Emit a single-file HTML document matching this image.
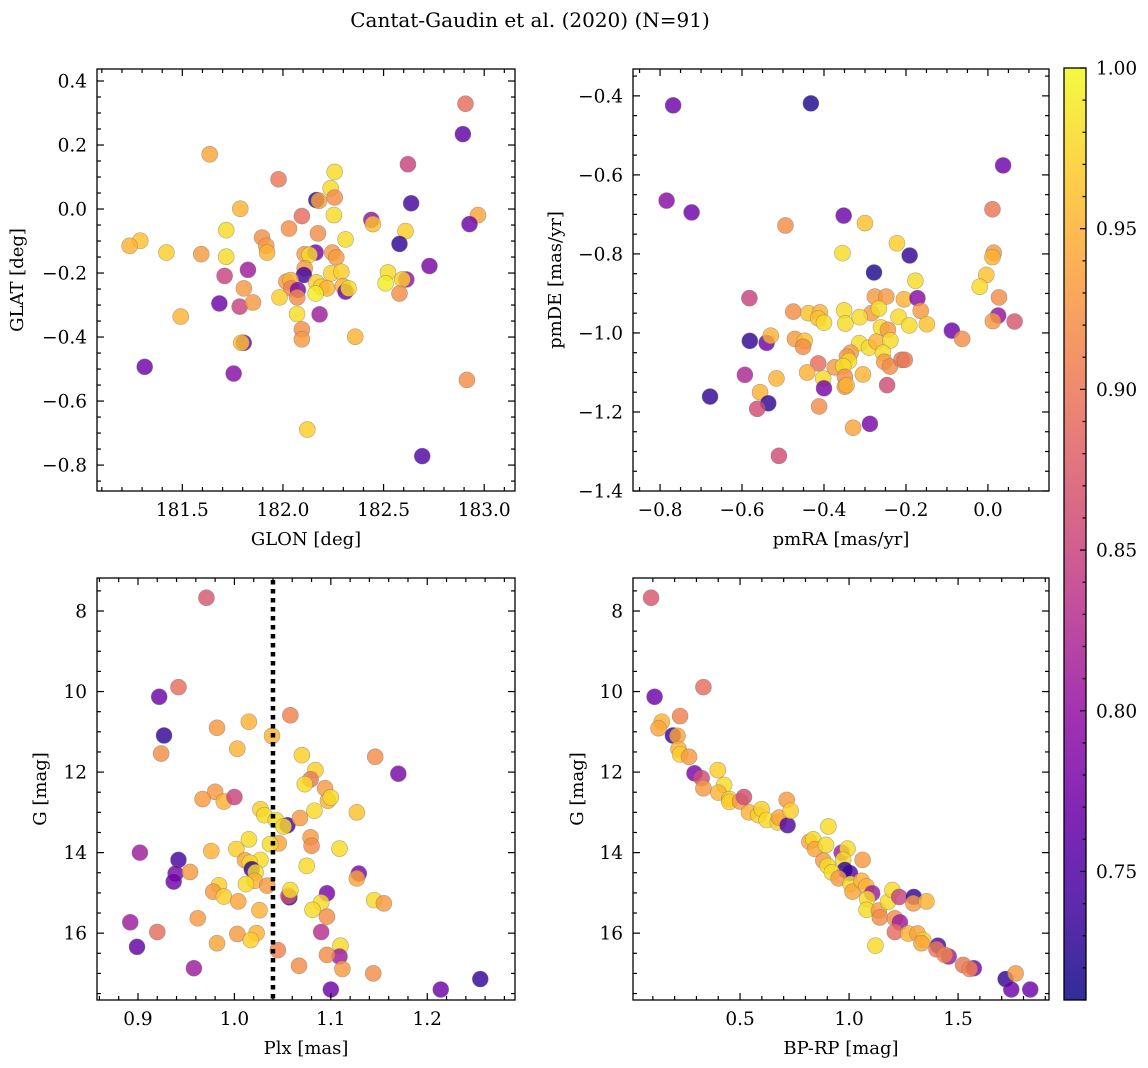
<!DOCTYPE html>
<html><head><meta charset="utf-8">
<style>
html,body{margin:0;padding:0;background:#fff;}
svg{display:block;}
text{font-family:"DejaVu Serif","Liberation Serif",serif;fill:#000;}
</style></head>
<body>
<svg id="fig" width="1148" height="1068" viewBox="0 0 1148 1068" xmlns="http://www.w3.org/2000/svg">
<text x="530" y="27" font-size="20" text-anchor="middle">Cantat-Gaudin et al. (2020) (N=91)</text>
</svg>
<script>
// ---- Panel A: GLON vs GLAT ----
const glonA=[182.907,182.894,181.636,182.621,181.978,182.257,182.237,182.257,182.166,182.179,182.637,181.788,182.969,182.253,182.094,182.439,182.447,182.927,182.030,181.718,182.609,182.174,181.896,182.311,181.291,181.238,182.579,181.917,181.921,181.421,181.594,181.718,182.108,182.162,182.132,182.245,182.265,182.728,181.826,181.710,182.108,182.104,182.240,182.290,182.522,182.613,182.593,182.510,181.806,182.017,182.038,182.041,182.074,182.166,182.190,182.219,182.298,182.311,182.326,182.579,182.071,182.162,181.983,181.684,181.785,181.851,182.070,182.182,181.492,182.094,182.094,182.359,181.805,181.793,181.313,181.755,182.914,182.121,182.692];
const glatA=[0.329,0.234,0.171,0.140,0.093,0.116,0.065,0.036,0.028,0.026,0.018,0.001,-0.019,-0.019,-0.022,-0.034,-0.047,-0.047,-0.061,-0.066,-0.069,-0.076,-0.089,-0.095,-0.099,-0.115,-0.109,-0.115,-0.136,-0.136,-0.141,-0.149,-0.141,-0.136,-0.143,-0.136,-0.151,-0.178,-0.190,-0.209,-0.185,-0.206,-0.201,-0.196,-0.198,-0.220,-0.220,-0.232,-0.248,-0.227,-0.222,-0.248,-0.253,-0.229,-0.243,-0.248,-0.241,-0.258,-0.248,-0.264,-0.276,-0.264,-0.276,-0.295,-0.305,-0.292,-0.328,-0.329,-0.336,-0.376,-0.407,-0.399,-0.418,-0.418,-0.493,-0.514,-0.534,-0.689,-0.772];
const probA=[.89,.76,.94,.85,.90,.98,.98,.92,.72,.94,.74,.95,.94,.98,.89,.80,.96,.77,.92,.98,.97,.92,.92,.98,.96,.95,.73,.93,.95,.97,.93,.98,.93,.78,.98,.93,.93,.78,.81,.85,.93,.74,.97,.97,.98,.80,.97,.99,.93,.93,.95,.91,.78,.97,.97,.95,.95,.77,.98,.92,.92,.99,.97,.77,.85,.93,.98,.81,.95,.92,.93,.95,.77,.96,.77,.79,.92,.97,.75];
// ---- Panel B: pmRA vs pmDE ----
const pmraB=[-0.768,-0.432,0.037,-0.784,-0.723,-0.352,0.011,-0.494,-0.300,-0.222,-0.355,-0.191,0.014,0.011,-0.278,-0.004,-0.177,-0.020,-0.276,-0.248,-0.205,-0.172,0.027,-0.582,-0.475,-0.438,-0.410,-0.351,-0.284,-0.266,-0.164,-0.414,-0.400,-0.348,-0.313,-0.218,-0.192,-0.149,0.025,0.012,0.065,-0.088,-0.063,-0.261,-0.244,-0.581,-0.540,-0.530,-0.471,-0.447,-0.451,-0.314,-0.290,-0.272,-0.238,-0.256,-0.335,-0.344,-0.339,-0.253,-0.239,-0.211,-0.203,-0.414,-0.374,-0.353,-0.441,-0.305,-0.593,-0.516,-0.402,-0.400,-0.349,-0.349,-0.345,-0.246,-0.678,-0.556,-0.536,-0.563,-0.412,-0.329,-0.288,-0.510];
const pmdeB=[-0.424,-0.419,-0.576,-0.665,-0.695,-0.703,-0.687,-0.728,-0.722,-0.773,-0.798,-0.804,-0.797,-0.808,-0.847,-0.853,-0.868,-0.883,-0.908,-0.908,-0.915,-0.912,-0.910,-0.912,-0.946,-0.950,-0.948,-0.943,-0.950,-0.938,-0.944,-0.963,-0.974,-0.976,-0.960,-0.959,-0.981,-0.978,-0.956,-0.970,-0.971,-0.994,-1.015,-0.986,-0.992,-1.020,-1.025,-1.007,-1.015,-1.020,-1.035,-1.026,-1.037,-1.022,-1.019,-1.050,-1.050,-1.060,-1.071,-1.073,-1.085,-1.068,-1.068,-1.077,-1.087,-1.084,-1.100,-1.105,-1.106,-1.115,-1.115,-1.140,-1.111,-1.136,-1.132,-1.132,-1.161,-1.150,-1.178,-1.192,-1.186,-1.240,-1.230,-1.311];
const probB=[.77,.72,.77,.79,.77,.77,.90,.92,.96,.97,.98,.73,.93,.95,.72,.96,.98,.98,.93,.93,.95,.79,.92,.85,.92,.96,.95,.98,.93,.98,.93,.96,.98,.98,.98,.98,.98,.96,.80,.93,.87,.77,.92,.98,.93,.73,.77,.95,.93,.96,.92,.98,.98,.95,.98,.98,.93,.93,.98,.93,.92,.90,.90,.89,.93,.98,.95,.95,.82,.95,.98,.78,.92,.93,.95,.86,.73,.95,.73,.86,.92,.94,.78,.86];
// ---- Panel C: Plx vs G ----
const plxC=[0.971,0.942,0.922,0.927,0.924,0.982,1.015,1.039,1.058,1.003,1.070,1.146,1.170,1.084,1.079,1.073,1.094,1.097,1.100,0.980,0.967,0.989,1.000,1.027,1.031,1.043,1.055,1.051,1.068,1.083,1.127,1.015,1.046,1.037,1.079,1.080,1.109,0.976,1.002,0.902,0.942,1.011,1.027,1.016,1.075,1.018,1.022,0.939,0.954,0.937,1.021,1.129,1.127,0.984,1.012,1.034,0.978,0.989,1.004,1.057,1.056,1.058,1.096,1.090,1.145,1.155,1.026,1.081,1.096,0.962,0.892,0.920,1.003,1.023,1.017,1.090,0.899,0.982,1.045,1.110,1.109,1.096,0.958,1.067,1.112,1.144,1.100,1.214,1.255];
const gC=[7.67,9.89,10.13,11.09,11.54,10.90,10.75,11.10,10.59,11.42,11.58,11.62,12.04,11.95,12.18,12.30,12.40,12.71,12.63,12.49,12.67,12.73,12.62,12.92,13.07,13.19,13.32,13.35,13.14,12.96,13.00,13.67,13.77,13.79,13.62,13.83,13.90,13.96,13.91,14.00,14.18,14.19,14.18,14.25,14.33,14.41,14.49,14.52,14.48,14.72,14.70,14.52,14.64,14.81,14.78,14.82,14.97,15.09,15.21,15.11,15.07,14.93,15.01,15.24,15.18,15.26,15.43,15.42,15.59,15.63,15.73,15.97,16.02,16.00,16.17,15.97,16.34,16.25,16.42,16.31,16.58,16.54,16.87,16.81,16.89,17.00,17.40,17.40,17.14];
const probC=[.87,.89,.77,.73,.92,.93,.95,.95,.91,.95,.97,.92,.78,.97,.90,.98,.93,.95,.98,.93,.93,.95,.85,.97,.98,.98,.74,.98,.93,.98,.96,.98,.94,.98,.93,.92,.98,.95,.97,.81,.74,.94,.98,.98,.98,.73,.98,.78,.93,.77,.95,.78,.94,.97,.98,.93,.93,.97,.94,.73,.86,.98,.78,.98,.98,.93,.95,.98,.92,.93,.81,.89,.93,.95,.97,.83,.76,.94,.91,.98,.81,.92,.81,.92,.93,.92,.77,.77,.73];
const plxCut=[1.04];
// ---- Panel D: BP-RP vs G ----
const bprpD=[0.092,0.108,0.332,0.225,0.141,0.126,0.192,0.213,0.218,0.225,0.266,0.291,0.324,0.332,0.398,0.427,0.401,0.451,0.451,0.500,0.518,0.541,0.584,0.599,0.622,0.673,0.679,0.718,0.714,0.732,0.818,0.836,0.844,0.894,0.905,0.966,0.993,0.882,0.902,0.973,1.004,0.981,0.921,0.952,1.062,1.007,1.016,1.057,1.080,1.106,1.083,1.080,1.137,1.141,1.179,1.199,1.230,1.297,1.295,1.355,1.210,1.233,1.210,1.271,1.314,1.340,1.332,1.121,1.408,1.401,1.457,1.439,1.523,1.572,1.553,1.718,1.764,1.744,1.831];
const gD=[7.67,10.13,9.89,10.61,10.75,10.91,11.09,11.10,11.43,11.56,11.62,12.03,12.15,12.40,11.95,12.32,12.51,12.67,12.74,12.73,12.62,13.00,13.07,12.92,13.19,13.25,13.13,13.32,12.69,12.96,13.73,13.67,13.91,13.81,13.35,14.00,13.90,14.20,14.33,14.18,14.51,14.43,14.49,14.64,14.18,14.78,14.97,14.70,14.84,15.01,15.15,15.42,15.44,15.61,15.22,14.93,15.10,15.10,15.26,15.21,15.63,15.73,15.97,16.01,16.01,16.17,16.25,16.31,16.31,16.40,16.58,16.54,16.79,16.87,16.89,17.14,17.00,17.40,17.40];
const probD=[.87,.77,.89,.91,.95,.94,.73,.94,.95,.97,.93,.78,.86,.93,.97,.98,.95,.97,.97,.93,.86,.95,.97,.97,.98,.97,.94,.75,.93,.97,.94,.98,.94,.98,.98,.81,.98,.93,.98,.98,.76,.73,.98,.93,.93,.98,.94,.95,.95,.81,.98,.98,.93,.92,.98,.98,.85,.73,.93,.95,.92,.81,.89,.95,.94,.97,.94,.98,.75,.90,.81,.91,.90,.78,.91,.73,.93,.77,.77];
// ---- Colorbar ----
const cbRange=[0.710,1.000];
const cbTicks=[0.75,0.80,0.85,0.90,0.95,1.00];

const NS='http://www.w3.org/2000/svg';
const svg=document.getElementById('fig');
function mk(tag,attrs,parent){const e=document.createElementNS(NS,tag);for(const k in attrs)e.setAttribute(k,attrs[k]);(parent||svg).appendChild(e);return e;}
const plasma=[[13,8,135],[65,4,157],[106,0,168],[143,13,164],[177,42,144],[204,71,120],[225,100,98],[242,132,75],[252,166,54],[252,206,37],[240,249,33]];
function cmap(v){let t=(v-cbRange[0])/(cbRange[1]-cbRange[0]);t=Math.max(0,Math.min(1,t));const f=t*10,i=Math.min(9,Math.floor(f)),r=f-i;const a=plasma[i],b=plasma[i+1];return 'rgb('+[0,1,2].map(k=>Math.round(a[k]+(b[k]-a[k])*r)).join(',')+')';}
function fmt(v,d){const s=Math.abs(v).toFixed(d);return (v<-1e-9?'\u2212':'')+s;}

function panel(cfg){
  const g=mk('g',{});
  
  
  const {x0,x1,y0,y1}=cfg.box;
  const sx=v=>x0+(v-cfg.xd[0])/(cfg.xd[1]-cfg.xd[0])*(x1-x0);
  const sy=v=>cfg.yinv? y0+(v-cfg.yd[0])/(cfg.yd[1]-cfg.yd[0])*(y1-y0) : y1-(v-cfg.yd[0])/(cfg.yd[1]-cfg.yd[0])*(y1-y0);
  const clip='clip-'+cfg.name;
  const cp=mk('clipPath',{id:clip},g);mk('rect',{x:x0,y:y0,width:x1-x0,height:y1-y0},cp);
  const pts=mk('g',{'clip-path':'url(#'+clip+')'},g);
  
  
  for(let i=0;i<cfg.xs.length;i++){
    const c=mk('circle',{cx:sx(cfg.xs[i]),cy:sy(cfg.ys[i]),r:8,fill:cmap(cfg.cs[i]),'fill-opacity':0.82,stroke:'#777','stroke-opacity':0.6,'stroke-width':0.6},pts);
    
    
  }
  if(cfg.vline){
    const l=mk('line',{x1:sx(cfg.vline),x2:sx(cfg.vline),y1:y0+2,y2:y1,stroke:'#000','stroke-width':4.5,'stroke-dasharray':'4.5 4.5'},g);
    
    
  }
  const tk=mk('g',{stroke:'#000','stroke-width':1.2},g);
  const eps=1e-9;
  for(let v=Math.ceil(cfg.xd[0]/cfg.xminor-eps)*cfg.xminor;v<=cfg.xd[1]+eps;v+=cfg.xminor){const X=sx(v);
    const isMaj=Math.abs(v/cfg.xmajor-Math.round(v/cfg.xmajor))<1e-6;const L=isMaj?7:4;
    mk('line',{x1:X,x2:X,y1:y1,y2:y1-L},tk);mk('line',{x1:X,x2:X,y1:y0,y2:y0+L},tk);
    if(isMaj){const t=mk('text',{x:X,y:y1+25,'font-size':18.5,'text-anchor':'middle'},g);t.textContent=fmt(v,cfg.xdec);
      }
  }
  for(let v=Math.ceil(cfg.yd[0]/cfg.yminor-eps)*cfg.yminor;v<=cfg.yd[1]+eps;v+=cfg.yminor){const Y=sy(v);
    const isMaj=Math.abs(v/cfg.ymajor-Math.round(v/cfg.ymajor))<1e-6;const L=isMaj?7:4;
    mk('line',{y1:Y,y2:Y,x1:x0,x2:x0+L},tk);mk('line',{y1:Y,y2:Y,x1:x1,x2:x1-L},tk);
    if(isMaj){const t=mk('text',{x:x0-10,y:Y+6.5,'font-size':18.5,'text-anchor':'end'},g);t.textContent=fmt(v,cfg.ydec);
      }
  }
  const fr=mk('rect',{x:x0,y:y0,width:x1-x0,height:y1-y0,fill:'none',stroke:'#000','stroke-width':1.3},g);
  
  const xl=mk('text',{x:(x0+x1)/2,y:y1+54,'font-size':18,'text-anchor':'middle'},g);xl.textContent=cfg.xlabel;
  
  const yl=mk('text',{x:0,y:0,'font-size':18,'text-anchor':'middle',transform:'translate('+cfg.ylx+','+(y0+y1)/2+') rotate(-90)'},g);yl.textContent=cfg.ylabel;
  
}

panel({name:'panel-glon-glat',box:{x0:97,x1:515,y0:69,y1:491},xd:[181.076,183.153],yd:[-0.881,0.4375],xs:glonA,ys:glatA,cs:probA,xmajor:0.5,xminor:0.1,ymajor:0.2,yminor:0.05,xdec:1,ydec:1,xlabel:'GLON [deg]',ylabel:'GLAT [deg]',ylx:23});
panel({name:'panel-pmra-pmde',box:{x0:633,x1:1049,y0:69,y1:491},xd:[-0.866,0.149],yd:[-1.4,-0.332],xs:pmraB,ys:pmdeB,cs:probB,xmajor:0.2,xminor:0.05,ymajor:0.2,yminor:0.05,xdec:1,ydec:1,xlabel:'pmRA [mas/yr]',ylabel:'pmDE [mas/yr]',ylx:561});
panel({name:'panel-plx-g',box:{x0:97,x1:515,y0:578,y1:1000},xd:[0.8575,1.291],yd:[7.18,17.66],yinv:true,xs:plxC,ys:gC,cs:probC,xmajor:0.1,xminor:0.02,ymajor:2,yminor:0.5,xdec:1,ydec:0,xlabel:'Plx [mas]',ylabel:'G [mag]',ylx:46,vline:plxCut[0]});
panel({name:'panel-bprp-g',box:{x0:633,x1:1049,y0:578,y1:1000},xd:[0.009,1.917],yd:[7.18,17.66],yinv:true,xs:bprpD,ys:gD,cs:probD,xmajor:0.5,xminor:0.1,ymajor:2,yminor:0.5,xdec:1,ydec:0,xlabel:'BP-RP [mag]',ylabel:'G [mag]',ylx:583});

// colorbar
(function(){
  const cx0=1064,cx1=1086,cy0=68,cy1=1000;
  const g=mk('g',{});
  
  
  const defs=mk('defs',{},g);
  const lg=mk('linearGradient',{id:'cbgrad',x1:0,y1:1,x2:0,y2:0},defs);
  for(let i=0;i<=20;i++){const v=cbRange[0]+(cbRange[1]-cbRange[0])*i/20;mk('stop',{offset:(i/20),'stop-color':cmap(v),'stop-opacity':0.85},lg);}
  mk('rect',{x:cx0,y:cy0,width:cx1-cx0,height:cy1-cy0,fill:'url(#cbgrad)',stroke:'#000','stroke-width':1.3},g);
  const sy=v=>cy1-(v-cbRange[0])/(cbRange[1]-cbRange[0])*(cy1-cy0);
  for(let k=Math.ceil(cbRange[0]*100-1e-6);k<=Math.round(cbRange[1]*100);k++){const v=k/100,Y=sy(v);const maj=k%5===0;
    mk('line',{x1:cx1,x2:cx1-(maj?6:3.5),y1:Y,y2:Y,stroke:'#000','stroke-width':1.2},g);}
  cbTicks.forEach(v=>{const t=mk('text',{x:cx1+10,y:sy(v)+6.5,'font-size':18.5},g);t.textContent=v.toFixed(2);
    });
})();
</script>
</body></html>
